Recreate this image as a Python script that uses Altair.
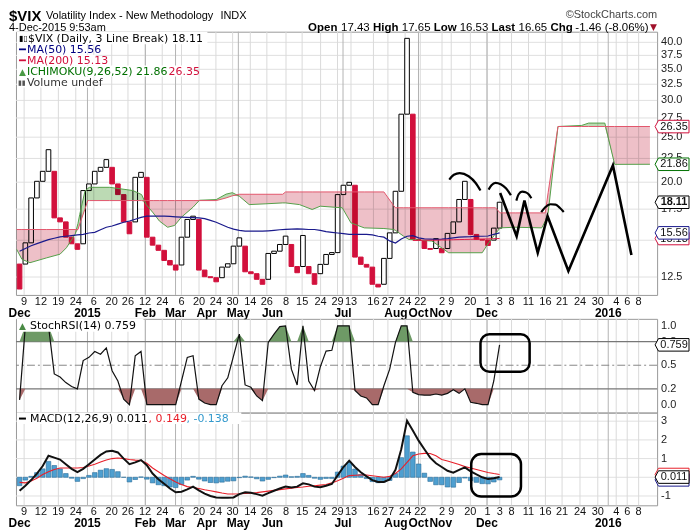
import altair as alt
import pandas as pd

# ---------------- data ----------------
first_open = 13.33
closes = [11.78, 14.81, 18.50, 20.09, 21.11, 23.50, 16.76, 16.43, 15.23, 14.74,
          14.34, 19.19, 19.83, 21.11, 21.53, 22.37, 19.83, 18.81, 16.43, 15.49,
          20.49, 21.00, 15.23, 14.64, 14.27, 13.57, 13.27, 12.94, 15.23, 16.63,
          16.90, 12.94, 12.52, 12.46, 12.21, 13.13, 13.35, 14.57, 15.18, 12.83,
          12.71, 12.36, 12.06, 14.05, 14.21, 14.69, 15.31, 13.17, 12.77, 15.36,
          12.71, 12.06, 13.31, 13.98, 14.11, 18.81, 19.70, 19.99, 13.80, 13.31,
          13.13, 12.06, 11.90, 13.71, 15.56, 19.12, 28.02, 40.80, 15.06, 14.99,
          14.40, 14.34, 15.12, 14.10, 15.52, 16.43, 18.36, 20.09, 15.44, 15.06,
          15.01, 14.62, 15.93, 18.11]

ma50 = [14.2, 14.4, 14.6, 14.75, 14.9, 15.05, 15.15, 15.25, 15.3, 15.35,
        15.4, 15.45, 15.55, 15.6, 15.8, 16.0, 16.1, 16.25, 16.4, 16.5,
        16.65, 16.8, 16.9, 16.9, 16.9, 16.9, 16.88, 16.85, 16.82, 16.8,
        16.78, 16.76, 16.7, 16.55, 16.4, 16.2, 16.0, 15.85, 15.75, 15.7,
        15.69, 15.69, 15.69, 15.72, 15.76, 15.8, 15.83, 15.85, 15.87, 15.85,
        15.82, 15.82, 15.75, 15.65, 15.6, 15.55, 15.5, 15.45, 15.44, 15.44,
        15.44, 15.4, 15.3, 15.23, 14.95, 14.8, 15.1, 15.3, 15.35, 15.18,
        15.1, 15.08, 15.06, 15.08, 15.12, 15.18, 15.23, 15.25, 15.27, 15.3,
        15.3, 15.32, 15.45, 15.56]

ma200_idx = list(range(69, 85))
ma200 = [14.98, 14.98, 15.0, 15.0, 15.0, 15.02, 15.02, 15.04, 15.05, 15.06,
         15.07, 15.08, 15.09, 15.1, 15.12, 15.13]

cloud_idx = [0.5, 1.4, 2.8, 5.7, 8.0, 9.1, 10.6, 11.1, 11.4, 12.3, 12.8, 13.1, 16.6,
             20.6, 22.1, 22.9, 24.1, 25.2, 26.6, 27.8, 29.0, 31.0, 32.1, 35.0, 36.7,
             37.8, 39.0, 40.7, 43.6, 46.5, 47.0, 49.4, 51.6, 53.0, 55.4, 56.8, 58.3,
             60.6, 64.0, 65.7, 66.0, 67.4, 68.3, 72.3, 75.2, 81.0, 82.1, 83.3, 84.1,
             86.7, 91.3, 91.9, 92.4, 94.1, 98.2, 99.4, 102.2, 103.9, 110.0]
span_a = [14.34, 13.65, 13.42, 13.75, 14.0, 14.45, 15.44, 16.3, 17.04, 19.12, 19.4, 19.5,
          19.5, 19.19, 18.81, 17.9, 17.18, 16.49, 16.0, 16.14, 16.82, 17.67, 18.29, 18.35,
          18.85, 18.99, 18.66, 17.9, 17.97, 18.05, 18.05, 17.9, 17.47, 17.76, 17.67, 17.62,
          16.35, 15.95, 15.9, 15.82, 15.75, 15.31, 15.06, 14.94, 14.1, 14.1, 14.81, 15.5,
          15.95, 16.0, 15.95, 16.5, 17.18, 26.36, 26.5, 26.81, 26.81, 21.85, 21.86]
span_b = [15.82, 15.82, 15.82, 15.82, 15.82, 15.82, 15.82, 15.82, 16.25, 17.5, 18.26, 18.26,
          18.26, 18.26, 18.26, 18.26, 18.26, 18.26, 18.26, 18.26, 18.26, 18.26, 18.26, 18.26,
          18.5, 18.7, 18.84, 18.84, 18.84, 18.84, 19.06, 19.06, 19.06, 19.06, 19.06, 19.06,
          19.06, 19.06, 19.06, 17.8, 17.62, 17.62, 17.62, 17.62, 17.62, 17.62, 17.62, 17.62,
          17.18, 17.18, 17.18, 17.18, 19.0, 26.36, 26.36, 26.36, 26.36, 26.36, 26.36]

stoch = [0.06, 1.0, 1.0, 1.0, 1.0, 1.0, 0.39, 0.35, 0.28, 0.23,
         0.2, 0.56, 0.6, 0.675, 0.64, 0.72, 0.43, 0.30, 0.07, 0.0,
         0.62, 0.675, 0.0, 0.0, 0.0, 0.0, 0.0, 0.0, 0.3, 0.6,
         0.62, 0.07, 0.02, 0.0, 0.0, 0.24, 0.34, 0.62, 0.895, 0.25,
         0.22, 0.11, 0.05, 0.79, 0.895, 0.99, 1.0, 0.45, 0.25, 1.0,
         0.30, 0.18, 0.48, 0.68, 0.69, 1.0, 1.0, 1.0, 0.18, 0.11,
         0.085, 0.0, 0.0, 0.24, 0.45, 0.79, 1.0, 1.0, 0.156, 0.127,
         0.12, 0.12, 0.135, 0.12, 0.143, 0.19, 0.143, 0.2, 0.03, 0.017,
         0.0, 0.0, 0.30, 0.759]

macd = [-0.72, -0.45, -0.15, 0.2, 0.6, 1.15, 1.05, 0.95, 0.7, 0.45,
        0.28, 0.45, 0.7, 0.95, 1.2, 1.38, 1.42, 1.33, 1.0, 0.7,
        0.8, 0.92, 0.65, 0.2, -0.1, -0.35, -0.6, -0.8, -0.77, -0.65,
        -0.5, -0.7, -0.87, -1.0, -1.08, -1.1, -1.1, -1.08, -0.9, -0.8,
        -0.83, -0.9, -0.98, -0.85, -0.72, -0.6, -0.5, -0.55, -0.5, -0.32,
        -0.38, -0.5, -0.53, -0.45, -0.36, 0.1, 0.55, 0.89, 0.55, 0.27,
        0.05, -0.15, -0.25, -0.25, -0.12, 0.4, 1.5, 3.02, 2.5, 1.96,
        1.5, 1.05, 0.75, 0.55, 0.35, 0.25, 0.4, 0.53, 0.32, 0.15,
        0.0, -0.09, -0.05, 0.011]
signal = [-0.27, -0.3, -0.2, -0.05, 0.15, 0.3, 0.42, 0.5, 0.5, 0.5,
          0.5, 0.52, 0.6, 0.7, 0.82, 0.92, 1.0, 1.03, 1.0, 0.95,
          0.92, 0.9, 0.75, 0.5, 0.3, 0.1, -0.08, -0.25, -0.38, -0.5,
          -0.55, -0.6, -0.67, -0.72, -0.78, -0.84, -0.89, -0.89, -0.88, -0.86,
          -0.85, -0.82, -0.78, -0.74, -0.7, -0.66, -0.62, -0.58, -0.55, -0.52,
          -0.48, -0.45, -0.42, -0.39, -0.3, -0.18, -0.05, 0.09, 0.11, 0.12,
          0.12, 0.08, 0.04, 0.0, 0.05, 0.2, 0.45, 0.8, 1.15, 1.25,
          1.28, 1.27, 1.15, 0.95, 0.87, 0.78, 0.68, 0.57, 0.5, 0.42,
          0.34, 0.26, 0.2, 0.149]

day_labels = ["9", "12", "19", "24", "6", "20", "26", "12", "24", "6", "20", "24", "30",
              "14", "26", "8", "15", "24", "29", "13", "16", "27", "24", "22", "2", "9",
              "20", "1", "3", "8", "11", "16", "21", "24", "30", "4", "6", "8"]
day_pos = [1.79, 4.69, 7.71, 10.72, 13.83, 16.93, 19.74, 22.71, 25.67, 29.0, 32.03, 34.95,
           37.84, 40.9, 43.76, 47.07, 49.86, 53.05, 55.98, 58.31, 62.19, 64.69, 67.67,
           70.29, 74.05, 75.64, 78.95, 81.9, 84.03, 86.07, 89.0, 91.93, 94.81, 97.91,
           100.98, 104.17, 106.07, 108.05]
month_labels = ["Dec", "2015", "Feb", "Mar", "Apr", "May", "Jun", "Jul", "Aug", "Oct",
                "Nov", "Dec", "2016"]
month_pos = [1.0, 12.74, 22.76, 27.97, 33.36, 38.83, 44.74, 56.93, 66.07, 69.98,
             73.83, 81.81, 102.79]
dark_grid_pos = [12.74, 22.76, 27.97, 38.83, 56.93, 69.98, 81.81, 102.79]

# tick values; labels covered by the value tags in the picture are not drawn
main_ticks = [12.5, 15, 17.5, 20, 22.5, 25, 27.5, 30, 32.5, 35, 37.5, 40]
main_label_ticks = [12.5, 17.5, 20, 22.5, 25, 27.5, 30, 32.5, 35, 37.5, 40]
main_label_text = ["12.5", "17.5", "20.0", "22.5", "25.0", "27.5", "30.0",
                   "32.5", "35.0", "37.5", "40.0"]
stoch_ticks = [0.0, 0.2, 0.5, 0.8, 1.0]
stoch_tick_text = ["0.0", "0.2", "0.5", "0.8", "1.0"]
macd_ticks = [-1, 0, 1, 2, 3]
macd_label_ticks = [-1, 1, 2, 3]
macd_label_text = ["-1", "1", "2", "3"]

zig_idx = [84.1, 86.95, 88.3, 90.6, 92.3, 95.9, 103.6, 106.8]
zig_val = [18.96, 15.31, 18.26, 14.1, 16.9, 12.88, 21.74, 13.94]
arc_group = [1] * 6 + [2] * 6 + [3] * 6 + [4] * 6
arc_idx = [75.3, 76.1, 77.1, 78.65, 79.9, 80.7,
           82.1, 82.6, 83.3, 84.2, 85.1, 85.95,
           86.9, 87.3, 87.9, 88.5, 89.1, 89.5,
           91.2, 91.9, 92.8, 93.7, 94.4, 95.1]
arc_val = [20.26, 20.75, 20.93, 20.6, 19.9, 19.19,
           19.28, 19.7, 19.94, 19.8, 19.41, 18.75,
           18.26, 18.84, 19.09, 19.03, 18.8, 18.47,
           17.24, 17.67, 17.93, 17.9, 17.62, 17.26]

# ---------------- derived tables ----------------
n = len(closes)
idx = list(range(1, n + 1))
opens, dirs = [], []
for k, c in enumerate(closes):
    if k == 0:
        o = first_open
        d = "down" if c < o else "up"
    else:
        d = "up" if c > closes[k - 1] else "down"
        o = closes[k - 1] if d == dirs[-1] else opens[-1]
    opens.append(o)
    dirs.append(d)

bars_df = pd.DataFrame({"i": idx, "o": opens, "c": closes, "d": dirs})
ma_df = pd.DataFrame({"i": idx, "m": ma50})
ma200_df = pd.DataFrame({"i": ma200_idx, "m": ma200})
cloud_df = pd.DataFrame({"i": cloud_idx, "a": span_a, "b": span_b})
stoch_df = pd.DataFrame({"i": idx, "s": stoch})
macd_df = pd.DataFrame({"i": idx, "m": macd, "sg": signal,
                        "h": [a - b for a, b in zip(macd, signal)]})
days_df = pd.DataFrame({"pos": day_pos, "lab": day_labels})
months_df = pd.DataFrame({"pos": month_pos, "lab": month_labels})
dark_df = pd.DataFrame({"pos": dark_grid_pos})
zig_df = pd.DataFrame({"i": zig_idx, "v": zig_val, "s": list(range(len(zig_idx)))})
arc_df = pd.DataFrame({"i": arc_idx, "v": arc_val, "g": arc_group})
one = pd.DataFrame({"z": [0]})

# ---------------- layout / style ----------------
W = 643
H1, H2, H3 = 264, 94, 93
FONT = "Liberation Sans"
LEG = "DejaVu Sans"
TAG = "M -1 0 L -0.8 -0.37 L 1 -0.37 L 1 0.37 L -0.8 0.37 Z"

xs = alt.Scale(domain=[0.379, 111.24], nice=False, zero=False)
ys1 = alt.Scale(type="log", domain=[11.44, 42.17], nice=False)
ys2 = alt.Scale(domain=[-0.101, 1.089], nice=False, zero=False)
ys3 = alt.Scale(domain=[-1.499, 3.461], nice=False, zero=False)
X = alt.X("i:Q", scale=xs, axis=None)


def text(s, x, y, size=11, color="#000", bold=False, align="left", font=FONT,
         baseline="middle"):
    return alt.Chart(one).mark_text(
        text=s, align=align, baseline=baseline, fontSize=size,
        fontWeight="bold" if bold else "normal", color=color, font=font
    ).encode(x=alt.value(x), y=alt.value(y))


def box(x0, x1, y0, y1, color="white"):
    return alt.Chart(one).mark_rect(color=color).encode(
        x=alt.value(x0), x2=alt.value(x1), y=alt.value(y0), y2=alt.value(y1))


def vgrid():
    light = alt.Chart(days_df).mark_rule(color="#dadada", strokeWidth=1).encode(
        x=alt.X("pos:Q", scale=xs, axis=None))
    dark = alt.Chart(dark_df).mark_rule(color="#b3b3b3", strokeWidth=1).encode(
        x=alt.X("pos:Q", scale=xs, axis=None))
    return light + dark


def hgrid(values, yscale):
    df = pd.DataFrame({"v": values})
    return alt.Chart(df).mark_rule(color="#e0e0e0", strokeWidth=1).encode(
        y=alt.Y("v:Q", scale=yscale, axis=None))


def ylabels(values, texts, yscale):
    df = pd.DataFrame({"v": values, "t": texts})
    return alt.Chart(df).mark_text(fontSize=11, font=FONT, color="#222", align="left",
                                   baseline="middle").encode(
        x=alt.value(W + 4), y=alt.Y("v:Q", scale=yscale, axis=None), text="t:N")


def xlabels(h):
    d = alt.Chart(days_df).mark_text(fontSize=11, font=FONT, color="#111",
                                     baseline="middle").encode(
        x=alt.X("pos:Q", scale=xs, axis=None), y=alt.value(h + 7), text="lab:N")
    m = alt.Chart(months_df).mark_text(fontSize=12, font=FONT, fontWeight="bold",
                                       color="#000", baseline="middle").encode(
        x=alt.X("pos:Q", scale=xs, axis=None), y=alt.value(h + 18), text="lab:N")
    return d + m


def tag(value, label, color, yscale, bold=False, show_text=True):
    df = pd.DataFrame({"v": [value], "t": [label]})
    p = alt.Chart(df).mark_point(shape=TAG, size=1156, filled=True, fill="white",
                                 stroke=color, strokeWidth=1, opacity=1).encode(
        x=alt.value(W + 15), y=alt.Y("v:Q", scale=yscale, axis=None))
    if not show_text:
        return p
    t = alt.Chart(df).mark_text(fontSize=11, font=FONT, color="#111",
                                fontWeight="bold" if bold else "normal",
                                align="center", baseline="middle").encode(
        x=alt.value(W + 17), y=alt.Y("v:Q", scale=yscale, axis=None), text="t:N")
    return p + t


# ---------------- main panel ----------------
bars = alt.Chart(bars_df).transform_calculate(
    x0="datum.i - 0.4", x1="datum.i + 0.4").mark_rect(strokeWidth=1).encode(
    x=alt.X("x0:Q", scale=xs, axis=None), x2="x1:Q",
    y=alt.Y("o:Q", scale=ys1, axis=None), y2="c:Q",
    fill=alt.Fill("d:N", scale=alt.Scale(domain=["up", "down"],
                                         range=["#ffffff", "#d2103c"]), legend=None),
    stroke=alt.Stroke("d:N", scale=alt.Scale(domain=["up", "down"],
                                             range=["#000000", "#d2103c"]), legend=None))

cbase = alt.Chart(cloud_df).transform_calculate(lo="min(datum.a, datum.b)")
c_green = cbase.mark_area(color="#bcdab4", blend="multiply").encode(
    x=X, y=alt.Y("a:Q", scale=ys1, axis=None), y2="lo:Q")
c_pink = cbase.mark_area(color="#eec0c8", blend="multiply").encode(
    x=X, y=alt.Y("b:Q", scale=ys1, axis=None), y2="lo:Q")
c_la = cbase.mark_line(color="#55a04a", strokeWidth=1).encode(
    x=X, y=alt.Y("a:Q", scale=ys1, axis=None))
c_lb = cbase.mark_line(color="#e2566c", strokeWidth=1).encode(
    x=X, y=alt.Y("b:Q", scale=ys1, axis=None))

ma_line = alt.Chart(ma_df).mark_line(color="#1a1a8c", strokeWidth=1.2).encode(
    x=X, y=alt.Y("m:Q", scale=ys1, axis=None))
ma200_line = alt.Chart(ma200_df).mark_line(color="#e0204a", strokeWidth=1).encode(
    x=X, y=alt.Y("m:Q", scale=ys1, axis=None))

zig = alt.Chart(zig_df).mark_line(color="#000", strokeWidth=2.6).encode(
    x=X, y=alt.Y("v:Q", scale=ys1, axis=None), order="s:Q")
arcs = alt.Chart(arc_df).mark_line(color="#000", strokeWidth=2.2,
                                   interpolate="monotone").encode(
    x=X, y=alt.Y("v:Q", scale=ys1, axis=None), detail="g:N")

main_legend = [
    box(1, 192, 0, 12.5), box(1, 72, 12.5, 23), box(1, 80, 23, 34),
    box(1, 172, 34, 45), box(1, 78, 45, 56),
    text("▮▯", 3, 7, size=8, font=LEG),
    text("$VIX (Daily, 3 Line Break) 18.11", 12, 7, font=LEG),
    box(3, 10, 16.8, 18.6, "#000080"),
    text("MA(50) 15.56", 11, 18, color="#000080", font=LEG),
    box(3, 10, 27.8, 29.6, "#d2103c"),
    text("MA(200) 15.13", 11, 29, color="#d2103c", font=LEG),
    text("▲", 3, 40, size=9, color="#4a9a45", font=LEG),
    text("ICHIMOKU(9,26,52) 21.86", 11, 40, color="#007000", font=LEG),
    text("26.35", 153, 40, color="#d2103c", font=LEG),
    text("▮▮", 2, 51, size=7, color="#555", font=LEG),
    text("Volume undef", 11, 51, color="#333", font=LEG),
]

B = "alphabetic"
header = [
    text("$VIX", -7, -10.5, size=15, bold=True, baseline=B),
    text("Volatility Index - New Methodology", 30, -12.5, size=11, baseline=B),
    text("INDX", 205, -12.5, size=11, baseline=B),
    text("4-Dec-2015 9:53am", -7, -0.5, size=11, baseline=B),
    text("©StockCharts.com", 643, -13.5, size=11, color="#444", align="right",
         baseline=B),
    text("Open", 293, -1, size=11.5, bold=True, baseline=B),
    text("17.43", 326, -1, size=11.5, baseline=B),
    text("High", 358, -1, size=11.5, bold=True, baseline=B),
    text("17.65", 387, -1, size=11.5, baseline=B),
    text("Low", 419, -1, size=11.5, bold=True, baseline=B),
    text("16.53", 445, -1, size=11.5, baseline=B),
    text("Last", 477, -1, size=11.5, bold=True, baseline=B),
    text("16.65", 504, -1, size=11.5, baseline=B),
    text("Chg", 536, -1, size=11.5, bold=True, baseline=B),
    text("-1.46 (-8.06%)", 561, -1, size=11.5, baseline=B),
    text("▼", 636, -2, size=9, color="#a0102a", font=LEG, baseline=B),
]

main_tags = (tag(26.35, "26.35", "#d2103c", ys1) + tag(21.86, "21.86", "#007000", ys1)
             + tag(15.13, "15.13", "#d2103c", ys1) + tag(15.56, "15.56", "#1a1a8c", ys1)
             + tag(18.11, "18.11", "#000000", ys1, bold=True))

main = alt.layer(
    hgrid(main_ticks, ys1), vgrid(), bars, c_green, c_pink, c_la, c_lb, ma_line,
    ma200_line, zig, arcs, *main_legend, *header,
    ylabels(main_label_ticks, main_label_text, ys1), main_tags, xlabels(H1)
).properties(width=W, height=H1)

# ---------------- StochRSI panel ----------------
sbase = alt.Chart(stoch_df).transform_calculate(
    hi="max(datum.s, 0.8)", lo="min(datum.s, 0.2)", c8="0.8", c2="0.2")
s_green = sbase.mark_area(color="#6e9a66").encode(
    x=X, y=alt.Y("hi:Q", scale=ys2, axis=None), y2="c8:Q")
s_brown = sbase.mark_area(color="#a86a6a").encode(
    x=X, y=alt.Y("lo:Q", scale=ys2, axis=None), y2="c2:Q")
s_line = sbase.mark_line(color="#111", strokeWidth=1.2).encode(
    x=X, y=alt.Y("s:Q", scale=ys2, axis=None))
s_refs = alt.Chart(pd.DataFrame({"lv": [0.8, 0.2]})).mark_rule(
    color="#777", strokeWidth=1.2).encode(y=alt.Y("lv:Q", scale=ys2, axis=None))
s_mid = alt.Chart(pd.DataFrame({"lv": [0.5]})).mark_rule(
    color="#888", strokeWidth=1, strokeDash=[8, 3, 2, 3]).encode(
    y=alt.Y("lv:Q", scale=ys2, axis=None))
s_box = alt.Chart(pd.DataFrame({"x0": [80.7], "x1": [89.2], "y0": [0.418], "y1": [0.895]})
                  ).mark_rect(fillOpacity=0, stroke="#000", strokeWidth=2.5,
                              cornerRadius=9).encode(
    x=alt.X("x0:Q", scale=xs, axis=None), x2="x1:Q",
    y=alt.Y("y0:Q", scale=ys2, axis=None), y2="y1:Q")

stochp = alt.layer(
    vgrid(), s_refs, s_mid, s_green, s_brown, s_line, s_box,
    box(1, 128, 0, 13),
    text("▲", 3, 7, size=9, color="#4a8a45", font=LEG),
    text("StochRSI(14) 0.759", 14, 7, font=LEG),
    ylabels(stoch_ticks, stoch_tick_text, ys2),
    tag(0.759, "0.759", "#000000", ys2),
).properties(width=W, height=H2)

# ---------------- MACD panel ----------------
mbase = alt.Chart(macd_df).transform_calculate(
    x0="datum.i - 0.4", x1="datum.i + 0.4", c0="0")
m_hist = mbase.mark_rect(color="#4e9fd0", stroke="#2a6c98", strokeWidth=0.6).encode(
    x=alt.X("x0:Q", scale=xs, axis=None), x2="x1:Q",
    y=alt.Y("h:Q", scale=ys3, axis=None), y2="c0:Q")
m_sig = mbase.mark_line(color="#e8202a", strokeWidth=1.1).encode(
    x=X, y=alt.Y("sg:Q", scale=ys3, axis=None))
m_line = mbase.mark_line(color="#111", strokeWidth=2).encode(
    x=X, y=alt.Y("m:Q", scale=ys3, axis=None))
m_box = alt.Chart(pd.DataFrame({"x0": [79.1], "x1": [87.7], "y0": [-1.03], "y1": [1.24]})
                  ).mark_rect(fillOpacity=0, stroke="#000", strokeWidth=2.5,
                              cornerRadius=10).encode(
    x=alt.X("x0:Q", scale=xs, axis=None), x2="x1:Q",
    y=alt.Y("y0:Q", scale=ys3, axis=None), y2="y1:Q")

macdp = alt.layer(
    hgrid(macd_ticks, ys3), vgrid(), m_hist, m_sig, m_line, m_box,
    box(1, 226, 0, 11.5),
    box(3, 10, 5, 7, "#000"),
    text("MACD(12,26,9) 0.011", 14, 6, font=LEG),
    text(", 0.149", 133, 6, color="#e8202a", font=LEG),
    text(", -0.138", 171, 6, color="#3399cc", font=LEG),
    ylabels(macd_label_ticks, macd_label_text, ys3),
    tag(0.149, "0.149", "#e8202a", ys3, show_text=False),
    tag(-0.138, "-0.138", "#1a1a8c", ys3, show_text=False),
    tag(0.011, "0.011", "#000000", ys3),
    xlabels(H3),
).properties(width=W, height=H3)

lower = alt.vconcat(stochp, macdp, spacing=0, bounds="flush")
chart = alt.vconcat(main, lower, spacing=24, bounds="flush").properties(
    padding=0, background="white"
).configure_view(stroke="#9a9a9a", strokeWidth=1)

chart.save("out.html", embed_options={"renderer": "svg", "actions": False})
